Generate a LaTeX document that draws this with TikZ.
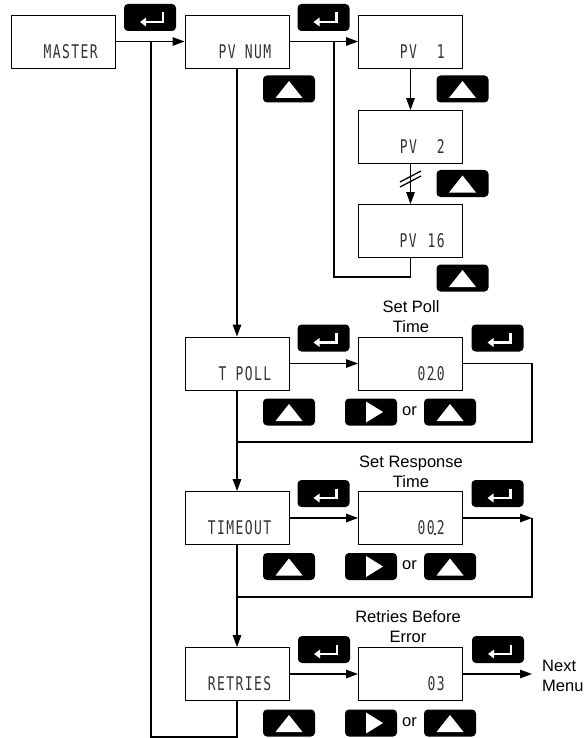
\documentclass[tikz,border=0pt]{standalone}
\usepackage{fontspec}
\setmainfont{Liberation Sans}
\newfontfamily\lcdfont{DejaVu Sans Mono}[LetterSpace=11]
\usepackage{tikz}
\usetikzlibrary{arrows.meta}
\newcommand{\lcd}[1]{\scalebox{1}[1.45]{#1}}
\newcommand{\dpt}{\hspace{-1.2pt}\makebox[3.6pt]{\rule{1.7pt}{1.3pt}}\hspace{-0.2pt}}
\tikzset{
  lcdbox/.style={draw=black, line width=0.9pt, minimum width=104pt, minimum height=53pt, inner sep=0pt},
  lcdtext/.style={anchor=base east, inner sep=0pt, text=black!80, font=\lcdfont\fontsize{13}{13}\selectfont},
  keybtn/.style={fill=black, rounded corners=4pt, minimum width=52pt, minimum height=27pt, inner sep=0pt},
  enterkey/.style={keybtn, path picture={
    \draw[white, line width=2.4pt, sharp corners, -{Triangle[length=6pt,width=8.5pt]}]
      ([shift={(13pt,5pt)}]path picture bounding box.center) -- ++(0pt,-9.5pt) -- ++(-23pt,0pt);}},
  upkey/.style={keybtn, path picture={
    \fill[white, sharp corners] ([shift={(-13.5pt,-9pt)}]path picture bounding box.center)
      -- ++(27pt,0pt) -- ++(-13.5pt,17pt) -- cycle;}},
  rightkey/.style={keybtn, path picture={
    \fill[white, sharp corners] ([shift={(-5pt,-10.5pt)}]path picture bounding box.center)
      -- ++(0pt,21pt) -- ++(17pt,-10.5pt) -- cycle;}},
  link/.style={line width=1.3pt},
  flow/.style={link, -{Triangle[length=12pt,width=8.5pt]}},
  caption/.style={font=\fontsize{16.5}{20}\selectfont, align=center, inner sep=0pt},
}

\begin{document}
\begin{tikzpicture}[x=1pt,y=1pt]
\useasboundingbox (0,-738) rectangle (587,0);
% display boxes:
\node[lcdbox] (master) at (63.5,-41.5) {};
\node[lcdbox] (pvnum) at (237,-41.5) {};
\node[lcdbox] (pv1) at (410.5,-41.5) {};
\node[lcdbox] (pv2) at (410.5,-137) {};
\node[lcdbox] (pv16) at (410.5,-231) {};
\node[lcdbox] (tpoll) at (237,-363.5) {};
\node[lcdbox] (polltime) at (410.5,-363.5) {};
\node[lcdbox] (timeout) at (237,-518) {};
\node[lcdbox] (resptime) at (410.5,-518) {};
\node[lcdbox] (retries) at (237,-674) {};
\node[lcdbox] (retrytime) at (410.5,-674) {};
% display texts:
\node[lcdtext] (master-t) at ([shift={(-18pt,10pt)}]master.south east) {\lcd{MASTER}};
\node[lcdtext] (pvnum-t) at ([shift={(-18pt,10pt)}]pvnum.south east) {\lcd{PV NUM}};
\node[lcdtext] (pv1-t) at ([shift={(-18pt,10pt)}]pv1.south east) {\lcd{PV\hspace{20pt}1}};
\node[lcdtext] (pv2-t) at ([shift={(-18pt,10pt)}]pv2.south east) {\lcd{PV\hspace{20pt}2}};
\node[lcdtext] (pv16-t) at ([shift={(-18pt,10pt)}]pv16.south east) {\lcd{PV\hspace{11pt}16}};
\node[lcdtext] (tpoll-t) at ([shift={(-18pt,10pt)}]tpoll.south east) {\lcd{T POLL}};
\node[lcdtext] (polltime-t) at ([shift={(-18pt,10pt)}]polltime.south east) {\lcd{02\dpt0}};
\node[lcdtext] (timeout-t) at ([shift={(-18pt,10pt)}]timeout.south east) {\lcd{TIMEOUT}};
\node[lcdtext] (resptime-t) at ([shift={(-18pt,10pt)}]resptime.south east) {\lcd{00\dpt2}};
\node[lcdtext] (retries-t) at ([shift={(-18pt,10pt)}]retries.south east) {\lcd{RETRIES}};
\node[lcdtext] (retrytime-t) at ([shift={(-18pt,10pt)}]retrytime.south east) {\lcd{03}};
% keys:
\node[enterkey] (ent1) at (150,-17.5) {};
\node[enterkey] (ent2) at (323.5,-17.5) {};
\node[enterkey] (ent3) at (323.5,-338) {};
\node[enterkey] (ent4) at (497.5,-338) {};
\node[enterkey] (ent5) at (323.5,-493.5) {};
\node[enterkey] (ent6) at (497.5,-493.5) {};
\node[enterkey] (ent7) at (324,-649.5) {};
\node[enterkey] (ent8) at (498,-649.5) {};
\node[upkey] (up1) at (289,-89) {};
\node[upkey] (up2) at (462.5,-89) {};
\node[upkey] (up3) at (462.5,-183.5) {};
\node[upkey] (up4) at (462.5,-278) {};
\node[upkey] (up5) at (289,-412) {};
\node[rightkey] (rt1) at (371,-412) {};
\node[upkey] (up6) at (450,-412) {};
\node[upkey] (up7) at (289,-566.5) {};
\node[rightkey] (rt2) at (371,-566.5) {};
\node[upkey] (up8) at (450,-566.5) {};
\node[upkey] (up9) at (289,-723) {};
\node[rightkey] (rt3) at (371,-723) {};
\node[upkey] (up10) at (450,-723) {};
% captions:
\node[caption] (or1) at (409.5,-411) {or};
\node[caption] (or2) at (409.5,-565.5) {or};
\node[caption] (or3) at (409.5,-722) {or};
\node[caption] (polllbl) at (411,-317) {Set Poll\\Time};
\node[caption] (resplbl) at (411,-472) {Set Response\\Time};
\node[caption] (retrylbl) at (408,-627) {Retries Before\\Error};
\node[caption, anchor=west, align=left] (next) at (542,-676) {Next\\Menu};
% top row:
\coordinate (mjoin) at (151,-41.5);
\coordinate (mbot) at (151,-737);
\coordinate (pjoin) at (334,-41.5);
\coordinate (pbot) at (334,-277);
\draw[flow] (master) -- (pvnum);
\draw[flow] (pvnum) -- (pv1);
\draw[flow] (pv1) -- (pv2);
\draw[flow] (pv2) -- (pv16);
\draw[link] (400,-182) -- (421,-171);
\draw[link] (400,-187) -- (421,-176);
\draw[link] (pv16.south) |- (pbot) -- (pjoin);
\draw[link] (retries.south) |- (mbot) -- (mjoin);
% poll time:
\coordinate (pollr) at (532,-442);
\coordinate (polll) at (237,-442);
\draw[flow] (pvnum) -- (tpoll);
\draw[flow] (tpoll) -- (polltime);
\draw[link] (polltime.east) -| (pollr) -- (polll);
% response time:
\coordinate (respr) at (532,-518);
\coordinate (respb) at (532,-597);
\coordinate (respl) at (237,-597);
\draw[flow] (tpoll) -- (timeout);
\draw[flow] (timeout) -- (resptime);
\draw[flow] (resptime.east) -- (respr);
\draw[link] (respr) -- (respb) -- (respl);
% retries:
\coordinate (nextm) at (532,-674);
\draw[flow] (timeout) -- (retries);
\draw[flow] (retries) -- (retrytime);
\draw[flow] (retrytime.east) -- (nextm);
\end{tikzpicture}
\end{document}
